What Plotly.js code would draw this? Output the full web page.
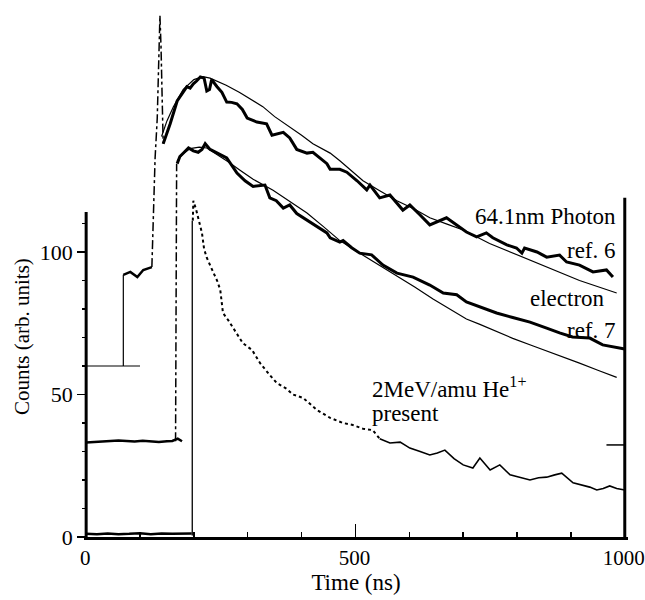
<!DOCTYPE html>
<html>
<head>
<meta charset="utf-8">
<script src="https://cdn.plot.ly/plotly-3.0.1.min.js"></script>
<style>html,body{margin:0;padding:0;background:#fff;}#chart{width:645px;height:600px;}</style>
</head>
<body>
<div id="chart"></div>
<script>
// ---- 64.1nm Photon (ref. 6) ----
const photonBaseX = [0, 100];
const photonBaseY = [60, 60];
const photonStepX = [69, 69];
const photonStepY = [60, 92];
const photonPreX = [69, 82, 95, 106, 122];
const photonPreY = [92, 93, 91.2, 93.7, 94.7];
const photonSpikeX = [122, 124, 128, 132, 134, 137, 139, 141, 143];
const photonSpikeY = [94.7, 108.8, 133, 147, 160, 183, 172, 155, 138];
const photonT = [143,156,169,187,193,199,205,212,219,224,229,233,243,252,261,270,280,290,299,317,335,345,366,378,391,410,421,447,453,471,484,503,521,527,545,564,588,601,620,638,669,694,706,725,743,755,781,799,809,814,837,855,879,892,916,941,966,978];
const photonV = [138,145,153,158,157.5,159,160,161.4,161,156.5,157,160.5,158,156,152.6,152.5,152,150,147,145.6,145,141,142,140,136,134.7,135,131,129,129,128,125,121.8,123.5,119,120,114.7,116.5,113,109.5,112,108.4,107,105.3,106.7,105,102.5,101.4,99.6,101.4,100,98.2,98.9,96.5,95.4,93,93.7,91.2];
const photonFitT = [140,150,162,180,200,217,230,243,260,285,310,328,350,378,400,421,453,471,514,545,577,610,638,670,700,749,792,855,916,985];
const photonFitV = [140.5,146,151,157,160.5,161.5,161,160,158.5,156,153,151,147.5,144,141,138,134.7,132,125,121.5,118,115,112,109.8,107.7,103,99.6,94.7,90,85.6];

// ---- electron (ref. 7) ----
const electronBaseT = [0,15,30,45,60,75,90,105,120,135,150,160,170,178];
const electronBaseV = [33.2,33.4,33.6,33.8,33.9,33.7,33.5,33.8,33.5,33.3,33.6,33.7,34.5,33.6];
const electronRiseT = [166, 167, 168];
const electronRiseV = [33.6, 90, 131];
const electronT = [169,174,182,190,199,208,215,221,230,245,261,280,295,310,332,341,353,366,378,391,403,428,447,453,471,477,493,508,530,551,577,607,638,663,688,706,731,762,792,824,855,879,903,935,959,990,1000];
const electronV = [131,133.5,135,136.5,135.5,135,136,138,136,134.5,133,127.7,125,123,123.5,119,118,115.4,116.5,113.5,112,109,106.7,105,103.5,104,101.5,99.6,99,95.4,92.6,91.2,88.4,85.6,85,82.5,80.7,78.6,77,75.4,73.3,71.6,70.2,69.8,67.4,66.5,66];
const electronFitT = [169,180,193,210,224,245,265,285,310,347,378,410,440,471,500,530,560,583,610,644,670,706,731,768,792,830,855,892,916,950,985];
const electronFitV = [132,134.5,136.3,136.8,136.5,134,131.5,128.8,125.5,121.7,117.8,113.7,109,104,100.5,97,93.7,91,87.7,83.5,80.5,76.5,74.6,71.5,69.7,67,65.3,62.6,61,58.5,56];

// ---- 2MeV/amu He1+ (present) ----
const presentBaseT = [0,20,40,60,80,100,120,140,160,180,196];
const presentBaseV = [1.1,1.0,1.2,1.0,1.1,1.3,1.0,1.2,1.1,1.3,1.2];
const presentRiseT = [197, 197];
const presentRiseV = [0.5, 111];
const presentDotT = [198,199,204,208,215,219,224,234,243,249,252,254,264,276,291,308,323,341,354,372,384,403,428,453,477,495,514,532,545];
const presentDotV = [111,118,115,112,106.7,101,98,93.7,90,86.7,82,78.6,76,72.6,68,65.6,61,56.8,54,52,50,48.8,44.6,41.8,40,39.3,38,37.5,34.5];
const presentT = [545,564,583,601,620,638,652,666,683,700,718,731,750,768,787,805,824,840,855,870,883,904,922,935,948,960,972,985,1000];
const presentV = [34.5,33,33.3,31.2,30,28.8,29.5,30.5,27.5,25.3,24.2,27.7,23.5,25.3,21.8,21,20,20.8,21,21.8,22.4,19,18.2,17.5,16.5,17,17.9,17,16.5];

// ---- axes ----
const xTickVals = [0, 500, 1000];
const xTickText = ['0', '500', '1000'];
const xMinorVals = [100, 200, 300, 400, 600, 700, 800, 900];
const yTickVals = [0, 50, 100];
const yTickText = ['0', '50', '100'];
const yMinorVals = [10, 20, 30, 40, 60, 70, 80, 90, 110];
const leftAxisTop = 114;
const rightAxisTop = 119;
const rightTickLevel = 32.3;

const FONT = 'Liberation Serif';
function ln(x, y, w, dash) {
  return {x: x, y: y, type: 'scatter', mode: 'lines', hoverinfo: 'skip',
    line: {color: '#000', width: w, dash: dash || 'solid'}};
}
const traces = [
  ln(photonBaseX, photonBaseY, 1.2),
  ln(photonStepX, photonStepY, 1.2),
  ln(photonPreX, photonPreY, 2.5),
  ln(photonSpikeX, photonSpikeY, 1.5, 'dashdot'),
  ln(photonT, photonV, 3),
  ln(photonFitT, photonFitV, 1.2),
  ln(electronBaseT, electronBaseV, 2.5),
  ln(electronRiseT, electronRiseV, 1.5, 'dashdot'),
  ln(electronT, electronV, 3),
  ln(electronFitT, electronFitV, 1.2),
  ln(presentBaseT, presentBaseV, 2.5),
  ln(presentRiseT, presentRiseV, 1.3),
  ln(presentDotT, presentDotV, 2, 'dot'),
  ln(presentT, presentV, 1.6)
];

const F = {family: FONT, size: 23, color: '#000'};
const FT = {family: FONT, size: 22, color: '#000'};
const FX = {family: FONT, size: 21, color: '#000'};
const layout = {
  width: 645, height: 600,
  margin: {l: 84, r: 17, t: 1, b: 63},
  paper_bgcolor: '#fff', plot_bgcolor: '#fff',
  showlegend: false,
  font: F,
  xaxis: {
    range: [-4, 1006], showgrid: false, zeroline: false,
    showline: true, linewidth: 3, linecolor: '#000',
    ticks: 'inside', ticklen: 13, tickwidth: 1.5, tickcolor: '#000',
    tickmode: 'array', tickvals: xTickVals, ticktext: xTickText,
    tickfont: FX, ticklabeloverflow: 'allow', ticklabelshift: -1,
    minor: {tickmode: 'array', tickvals: xMinorVals, ticks: 'inside', ticklen: 5, tickwidth: 1.5, tickcolor: '#000', showgrid: false},
    title: {text: 'Time (ns)', font: F, standoff: 5}
  },
  yaxis: {
    range: [0, 188.07], anchor: 'free', position: 0.004,
    showgrid: false, zeroline: false, showline: false,
    ticks: 'outside', ticklen: 9, tickwidth: 1.5, tickcolor: '#000',
    tickmode: 'array', tickvals: yTickVals, ticktext: yTickText,
    tickfont: FT, ticklabeloverflow: 'allow',
    minor: {tickmode: 'array', tickvals: yMinorVals, ticks: 'outside', ticklen: 4, tickwidth: 1.5, tickcolor: '#000', showgrid: false}
  },
  shapes: [
    {type: 'line', xref: 'x', yref: 'y', x0: 0, x1: 0, y0: 0, y1: leftAxisTop, line: {color: '#000', width: 3}},
    {type: 'line', xref: 'x', yref: 'y', x0: 1000, x1: 1000, y0: 0, y1: rightAxisTop, line: {color: '#000', width: 3}},
    {type: 'line', xref: 'x', yref: 'y', x0: 966, x1: 1000, y0: rightTickLevel, y1: rightTickLevel, line: {color: '#000', width: 1.5}}
  ],
  annotations: [
    {text: 'Counts (arb. units)', x: -0.114, y: 70.5, xref: 'paper', yref: 'y', textangle: -90, xanchor: 'center', yanchor: 'middle', showarrow: false, font: {family: FONT, size: 21, color: '#000'}},
    {text: '64.1nm Photon', x: 987.5, y: 112.3, xref: 'x', yref: 'y', xanchor: 'right', yanchor: 'middle', showarrow: false},
    {text: 'ref. 6', x: 987.5, y: 100.7, xref: 'x', yref: 'y', xanchor: 'right', yanchor: 'middle', showarrow: false},
    {text: 'electron', x: 820.8, y: 83.7, xref: 'x', yref: 'y', xanchor: 'left', yanchor: 'middle', showarrow: false},
    {text: 'ref. 7', x: 987.5, y: 72.6, xref: 'x', yref: 'y', xanchor: 'right', yanchor: 'middle', showarrow: false},
    {text: '2MeV/amu He<sup>1+</sup>', x: 527, y: 52.6, xref: 'x', yref: 'y', xanchor: 'left', yanchor: 'middle', showarrow: false},
    {text: 'present', x: 527, y: 43.4, xref: 'x', yref: 'y', xanchor: 'left', yanchor: 'middle', showarrow: false}
  ]
};
Plotly.newPlot('chart', traces, layout, {staticPlot: true, displayModeBar: false});
</script>
</body>
</html>
